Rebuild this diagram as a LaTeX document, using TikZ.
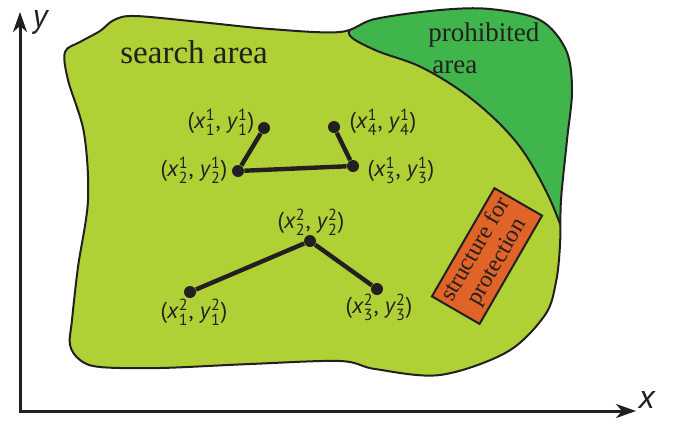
\documentclass[tikz,border=0pt]{standalone}
\usepackage{fontspec}
\usepackage{amsmath}
\setmainfont{Liberation Serif}
\newfontfamily\labfont{PT Sans}
\usetikzlibrary{arrows.meta}
\definecolor{ink}{HTML}{231F20}
\definecolor{searchfill}{HTML}{AFD135}
\definecolor{prohibfill}{HTML}{3FB54B}
\definecolor{protfill}{HTML}{E06428}
\newcommand\crd[3]{\textit{#1}$^{\text{#2}}_{\text{#3}}$}

\begin{document}
\begin{tikzpicture}[x=0.5pt,y=-0.5pt,
    dot/.style={circle,fill=ink,inner sep=0pt,minimum size=6pt},
    lab/.style={font=\labfont\fontsize{11.5}{13}\selectfont,text=ink,inner sep=0pt},
    leg/.style={line width=2.2pt,draw=ink},
    axlab/.style={font=\labfont\fontsize{17}{20}\selectfont,text=ink,inner sep=0pt}]
  \useasboundingbox (0,0) rectangle (678,424);

  % search area, with the prohibited part clipped inside it
  \draw[ink,line width=1pt,fill=searchfill,
    path picture={
      \fill[prohibfill] plot[smooth,tension=0.6] coordinates {(362,18) (349,34) (375,50) (423,68) (473,100) (517,143) (547,193) (566,240)}
        -- (660,240) -- (660,0) -- (362,0) -- cycle;
      \draw[ink,line width=1pt] plot[smooth,tension=0.6] coordinates {(362,18) (349,34) (375,50) (423,68) (473,100) (517,143) (547,193) (566,240)};
    }]
    plot[smooth cycle,tension=0.55] coordinates {(65,52) (80,42) (100,31) (114,20) (135,16) (200,22) (270,29) (340,32)
      (375,19) (440,10) (490,9) (540,20) (566,50) (572,90) (567,140) (561,200) (560,245) (556,282) (545,315)
      (507,352) (440,375) (375,369) (340,361) (250,364) (160,368) (100,367) (80,360) (70,345) (72,320)
      (78,267) (88,200) (84,133) (68,80)};

  \node[anchor=base west,inner sep=0pt,text=ink,font=\fontsize{16.5}{19}\selectfont] (search) at (120,63) {search area};
  \node[anchor=north west,inner sep=0pt,text=ink,align=left,font=\fontsize{13.5}{16}\selectfont] (prohib) at (428,22) {prohibited\\\hspace*{2pt}area};

  % structure
  \node[draw=ink,fill=protfill,line width=1pt,rotate=60,minimum width=62.5pt,minimum height=27.5pt,
    align=center,inner sep=1pt,text=ink,font=\fontsize{11.8}{12.5}\selectfont] (prot) at (487,256) {structure for\\protection};

  % first path
  \node[dot] (a1) at (264,128) {};
  \node[dot] (a2) at (238,171) {};
  \node[dot] (a3) at (353,166) {};
  \node[dot] (a4) at (334,127) {};
  \draw[leg] (a1) -- (a2) -- (a3) -- (a4);
  \node[lab] (la1) at (221,122) {(\crd{x}{1}{1}, \crd{y}{1}{1})};
  \node[lab] (la2) at (194,170) {(\crd{x}{1}{2}, \crd{y}{1}{2})};
  \node[lab] (la3) at (401,170) {(\crd{x}{1}{3}, \crd{y}{1}{3})};
  \node[lab] (la4) at (383,122) {(\crd{x}{1}{4}, \crd{y}{1}{4})};

  % second path
  \node[dot] (b1) at (190,292) {};
  \node[dot] (b2) at (310,241) {};
  \node[dot] (b3) at (377,289) {};
  \draw[leg] (b1) -- (b2) -- (b3);
  \node[lab] (lb1) at (194,312) {(\crd{x}{2}{1}, \crd{y}{2}{1})};
  \node[lab] (lb2) at (311,222) {(\crd{x}{2}{2}, \crd{y}{2}{2})};
  \node[lab] (lb3) at (379,307) {(\crd{x}{2}{3}, \crd{y}{2}{3})};

  % axes
  \coordinate (o) at (20,411);
  \coordinate (ytip) at (20,12);
  \coordinate (xtip) at (636,411);
  \draw[ink,line width=1.5pt,{Stealth[length=10pt,width=7pt,inset=3pt]}-{Stealth[length=10pt,width=7pt,inset=3pt]}] (ytip) -- (o) -- (xtip);
  \node[axlab] (ylab) at (41,22) {\textit{y}};
  \node[axlab] (xlab) at (647,400) {\textit{x}};
\end{tikzpicture}
\end{document}
